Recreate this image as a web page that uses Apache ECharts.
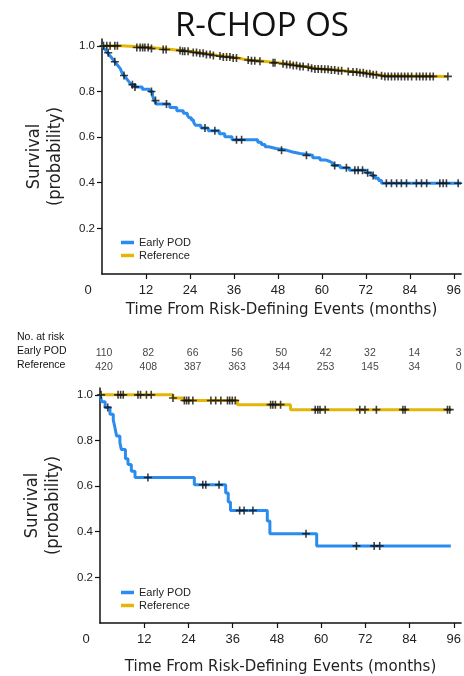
<!DOCTYPE html>
<html><head><meta charset="utf-8">
<script src="https://cdn.jsdelivr.net/npm/echarts@6/dist/echarts.min.js"></script>
<style>html,body{margin:0;padding:0;background:#fff}#c{width:464px;height:676px}</style>
</head><body><div id="c"></div>
<script>
const titleText = 'R-CHOP OS';
const xTicks = [0, 12, 24, 36, 48, 60, 72, 84, 96];
const yTicks = [0.2, 0.4, 0.6, 0.8, 1.0];
const groupNames = ['Early POD', 'Reference'];
const riskHeader = 'No. at risk';
const riskPod = [110, 82, 66, 56, 50, 42, 32, 14, 3];
const riskRef = [420, 408, 387, 363, 344, 253, 145, 34, 0];

// ---- top panel: Early POD ----
const topPodT = [0, 0.5, 1, 1.5, 2, 2.5, 3, 3.5, 4, 4.5, 5, 5.5, 6, 6.5, 7, 7.5, 8, 9, 11, 13, 13.8, 14.3, 14.8, 18.5, 20.4, 22.2, 23.3, 23.8, 24.4, 25, 25.5, 27, 29, 32, 33.5, 35.5, 42.5, 43.5, 44.5, 45.5, 47.5, 50.5, 52, 54, 57.5, 59.5, 61, 62.2, 63, 65, 67.5, 72, 73.5, 74.5, 75.5, 76.3, 98];
const topPodS = [1.0, 0.99, 0.98, 0.97, 0.96, 0.95, 0.94, 0.93, 0.92, 0.91, 0.90, 0.88, 0.87, 0.86, 0.85, 0.84, 0.83, 0.82, 0.81, 0.80, 0.78, 0.76, 0.745, 0.73, 0.715, 0.705, 0.695, 0.685, 0.675, 0.665, 0.652, 0.64, 0.628, 0.615, 0.602, 0.588, 0.578, 0.568, 0.558, 0.55, 0.542, 0.535, 0.528, 0.52, 0.51, 0.50, 0.493, 0.486, 0.476, 0.466, 0.455, 0.444, 0.432, 0.42, 0.41, 0.398, 0.398];
const topPodCens = [1.7, 3.5, 6, 8.3, 9, 13.5, 14.6, 17.6, 28.1, 30.8, 36.7, 38.1, 49, 55.8, 63.5, 66.7, 69, 69.9, 71.1, 72.5, 74, 77.6, 79, 80.4, 81.7, 83.1, 85.8, 87.2, 88.6, 92.2, 93.1, 94, 97.2];

// ---- top panel: Reference ----
const topRefT = [0, 5, 9, 13, 16, 19, 21.5, 24, 26, 28, 30, 31.5, 33, 35, 37, 38.5, 40, 42, 44, 46, 48, 50, 52, 53.5, 55, 56.5, 58, 60, 62, 64, 66, 68, 70, 72, 74, 75.5, 77, 94.4];
const topRefS = [1.0, 0.997, 0.993, 0.988, 0.984, 0.980, 0.976, 0.971, 0.967, 0.962, 0.958, 0.955, 0.951, 0.947, 0.942, 0.938, 0.935, 0.932, 0.929, 0.926, 0.922, 0.918, 0.914, 0.910, 0.906, 0.902, 0.899, 0.897, 0.894, 0.891, 0.888, 0.885, 0.882, 0.878, 0.873, 0.869, 0.866, 0.866];
const topRefCens = [0.4, 1.3, 2.2, 3.5, 4.2, 9.5, 10.4, 11.1, 11.7, 12.6, 13.5, 16.7, 17.5, 21.3, 22, 22.6, 23.5, 24.9, 25.8, 26.7, 27.6, 28.5, 29.5, 30.4, 32.2, 33.1, 34, 34.9, 35.8, 36.7, 39.9, 40.8, 41.7, 43.1, 46.7, 47.2, 49.4, 50.4, 51.3, 52.2, 53.1, 54, 54.9, 56.3, 57.2, 58.1, 59, 59.9, 60.8, 61.7, 62.6, 63.5, 64.5, 65.4, 67.2, 68.5, 69.5, 70.4, 71.3, 72.2, 73.1, 74, 74.9, 76.3, 77.2, 78.1, 79, 79.9, 80.8, 81.7, 82.6, 83.5, 84.5, 85.8, 86.7, 87.6, 88.5, 89.5, 90.4, 94.4];

// ---- bottom panel: Early POD ----
const botPodT = [0, 0.5, 1.4, 2.7, 3.6, 4.0, 4.5, 5.4, 5.8, 6.9, 7.6, 8.5, 9.5, 25.6, 34.1, 34.8, 35.4, 45.4, 46.1, 58.8, 95.2];
const botPodS = [1.0, 0.97, 0.945, 0.915, 0.89, 0.86, 0.82, 0.79, 0.76, 0.72, 0.695, 0.665, 0.638, 0.606, 0.57, 0.53, 0.493, 0.447, 0.391, 0.338, 0.338];
const botPodCens = [2.1, 13, 27.9, 28.7, 32.3, 37.9, 39.1, 41.5, 55.9, 69.6, 74.4, 75.9];

// ---- bottom panel: Reference ----
const botRefT = [0, 19.8, 22.5, 37.3, 51.7, 95.2];
const botRefS = [1.0, 0.986, 0.975, 0.957, 0.935, 0.935];
const botRefCens = [0.3, 4.9, 5.6, 6.3, 10.3, 11, 12.6, 13.9, 19.8, 22.9, 23.5, 24.1, 25.2, 30.1, 31.4, 32.8, 34.6, 35.2, 35.9, 36.7, 46.3, 46.9, 47.6, 49, 58.4, 59.1, 59.7, 61.1, 70.5, 71.9, 75, 82.2, 82.8, 94.3, 94.9];

const BLUE = '#2b8cf0', GOLD = '#e4b60a';
const AXIS_FONT = 'Liberation Sans, Arial, sans-serif';
const NAME_FONT = "'Liberation Sans Narrow', 'DejaVu Sans Condensed', 'Liberation Sans', sans-serif";
const CROSS = 'path://M4,0H6V4H10V6H6V10H4V6H0V4H4Z';

function survAt(T, S, t) { let v = S[0]; for (let i = 0; i < T.length; i++) { if (T[i] <= t) v = S[i]; } return v; }
function curve(T, S) { return T.map((t, i) => [t, S[i]]); }
function cens(T, S, C) { return C.map(t => [t, survAt(T, S, t)]); }

function xAx(grid, gap) {
  return {
    type: 'value', gridIndex: grid, min: 0, max: 98,
    axisLine: { show: true, lineStyle: { color: '#111', width: 1.5 } },
    axisTick: { show: true, length: 5, customValues: xTicks.slice(1), lineStyle: { color: '#111', width: 1.2 } },
    axisLabel: {
      customValues: xTicks, margin: 10, fontSize: 13, color: '#222', fontFamily: AXIS_FONT,
      formatter: v => v === 0 ? '{z|0}' : String(v),
      rich: { z: { padding: [0, 28, 0, 0], fontSize: 13, color: '#222', fontFamily: AXIS_FONT } }
    },
    splitLine: { show: false },
    name: 'Time From Risk-Defining Events (months)', nameLocation: 'middle', nameGap: gap,
    nameTextStyle: { fontSize: 16.7, color: '#222', fontFamily: NAME_FONT }
  };
}
function yAx(grid) {
  return {
    type: 'value', gridIndex: grid, min: 0, max: 1.03,
    axisLine: { show: true, lineStyle: { color: '#111', width: 1.5 } },
    axisTick: { show: true, length: 5, customValues: yTicks, lineStyle: { color: '#111', width: 1.2 } },
    axisLabel: { customValues: yTicks, margin: 7, fontSize: 11.5, color: '#222', fontFamily: AXIS_FONT, formatter: v => v.toFixed(1) },
    splitLine: { show: false },
    name: 'Survival\n(probability)', nameLocation: 'middle', nameGap: 36,
    nameTextStyle: { fontSize: 18, lineHeight: 21, color: '#222', fontFamily: NAME_FONT }
  };
}
function lineS(name, data, color, ax) {
  return { type: 'line', name, data, step: 'end', xAxisIndex: ax, yAxisIndex: ax, showSymbol: false, symbol: 'none',
    lineStyle: { color, width: 3 }, itemStyle: { color }, z: 2, animation: false };
}
function censS(data, ax) {
  return { type: 'scatter', name: 'censored', data, xAxisIndex: ax, yAxisIndex: ax, symbol: CROSS, symbolSize: 8,
    itemStyle: { color: '#111' }, z: 3, animation: false };
}
function legend(top) {
  return { data: groupNames.map(n => ({ name: n, icon: 'rect' })), orient: 'vertical', left: 116, top, itemWidth: 13, itemHeight: 3.5, itemGap: 2,
    textStyle: { fontSize: 11, color: '#222', fontFamily: AXIS_FONT }, selectedMode: false };
}
function riskS(vals, row) {
  return { type: 'scatter', name: 'risk-' + row, xAxisIndex: 2, yAxisIndex: 2, symbolSize: 0,
    data: vals.map((v, i) => [xTicks[i], row, v]),
    label: { show: true, position: 'inside', offset: [2, 0], formatter: p => String(p.value[2]), fontSize: 10.5, color: '#111', fontFamily: AXIS_FONT },
    animation: false };
}

const chart = echarts.init(document.getElementById('c'), null, { renderer: 'canvas' });
chart.setOption({
  backgroundColor: '#fff',
  animation: false,
  title: { text: titleText, left: 170, top: 5, textStyle: { fontSize: 33, fontWeight: 'normal', color: '#111', fontFamily: "'Open Sans', sans-serif" } },
  grid: [
    { left: 102, right: 0, top: 39, height: 235 },
    { left: 100, right: 0, top: 388, height: 237 },
    { left: 102, right: 0, top: 346, height: 28 }
  ],
  xAxis: [xAx(0, 27), xAx(1, 35), { type: 'value', gridIndex: 2, min: 0, max: 98, show: false }],
  yAxis: [yAx(0), yAx(1), { type: 'category', gridIndex: 2, data: groupNames, inverse: true, show: false }],
  legend: [legend(232), legend(582)],
  graphic: [
    { type: 'text', left: 17, top: 332, style: { text: riskHeader, fontSize: 10.5, fill: '#111', fontFamily: AXIS_FONT } },
    { type: 'text', left: 17, top: 346, style: { text: groupNames[0], fontSize: 10.5, fill: '#111', fontFamily: AXIS_FONT } },
    { type: 'text', left: 17, top: 360, style: { text: groupNames[1], fontSize: 10.5, fill: '#111', fontFamily: AXIS_FONT } }
  ],
  series: [
    lineS(groupNames[1], curve(topRefT, topRefS), GOLD, 0),
    lineS(groupNames[0], curve(topPodT, topPodS), BLUE, 0),
    censS(cens(topRefT, topRefS, topRefCens), 0),
    censS(cens(topPodT, topPodS, topPodCens), 0),
    lineS(groupNames[1], curve(botRefT, botRefS), GOLD, 1),
    lineS(groupNames[0], curve(botPodT, botPodS), BLUE, 1),
    censS(cens(botRefT, botRefS, botRefCens), 1),
    censS(cens(botPodT, botPodS, botPodCens), 1),
    riskS(riskPod, groupNames[0]),
    riskS(riskRef, groupNames[1])
  ]
});
</script></body></html>
